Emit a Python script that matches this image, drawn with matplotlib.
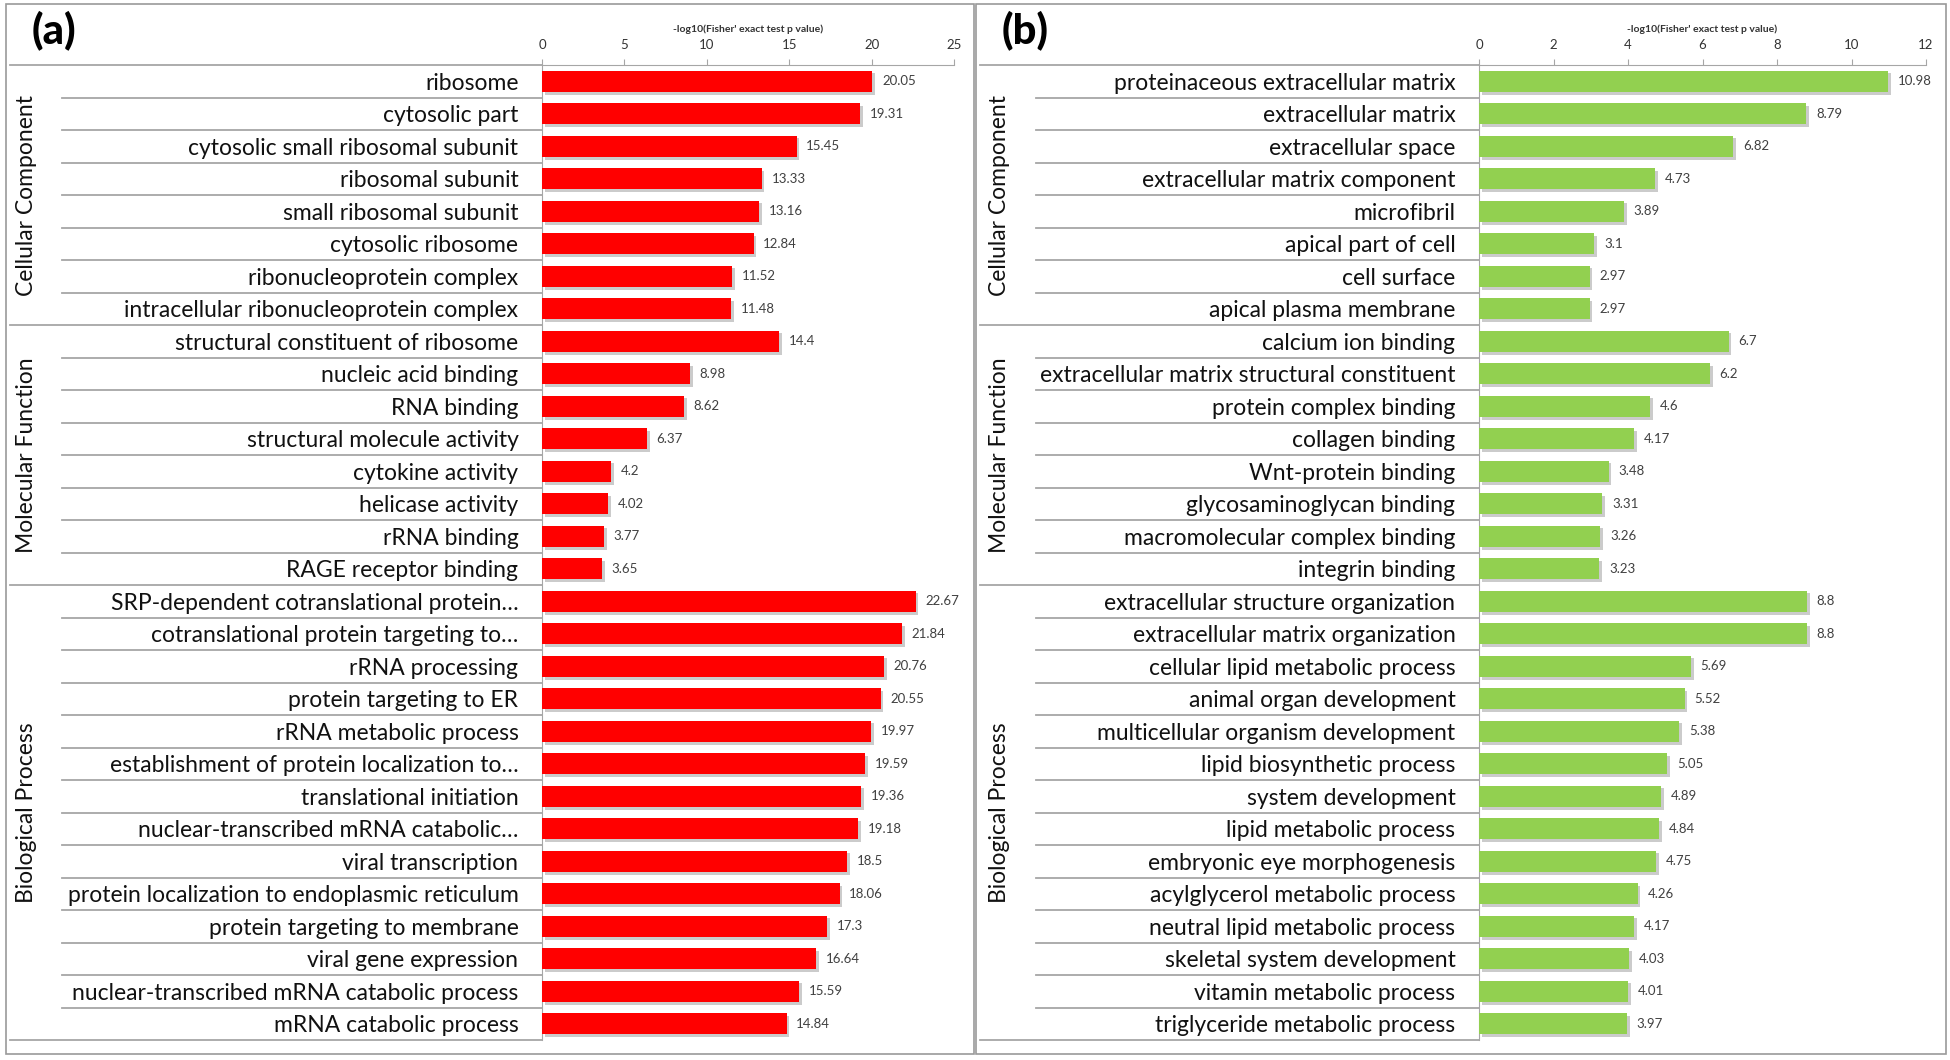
import matplotlib
matplotlib.use('Agg')
import matplotlib.pyplot as plt
import matplotlib.patheffects as pe
from matplotlib.patches import Rectangle
from matplotlib.lines import Line2D
import matplotlib.transforms as mtransforms

plt.rcParams['font.family'] = ['Lato', 'DejaVu Sans']

groups = ['Cellular Component', 'Molecular Function', 'Biological Process']
group_sizes = [8, 8, 14]

terms_a = [
    'ribosome', 'cytosolic part', 'cytosolic small ribosomal subunit', 'ribosomal subunit',
    'small ribosomal subunit', 'cytosolic ribosome', 'ribonucleoprotein complex',
    'intracellular ribonucleoprotein complex',
    'structural constituent of ribosome', 'nucleic acid binding', 'RNA binding',
    'structural molecule activity', 'cytokine activity', 'helicase activity', 'rRNA binding',
    'RAGE receptor binding',
    'SRP-dependent cotranslational protein…', 'cotranslational protein targeting to…',
    'rRNA processing', 'protein targeting to ER', 'rRNA metabolic process',
    'establishment of protein localization to…', 'translational initiation',
    'nuclear-transcribed mRNA catabolic…', 'viral transcription',
    'protein localization to endoplasmic reticulum', 'protein targeting to membrane',
    'viral gene expression', 'nuclear-transcribed mRNA catabolic process',
    'mRNA catabolic process',
]
values_a = [20.05, 19.31, 15.45, 13.33, 13.16, 12.84, 11.52, 11.48,
            14.4, 8.98, 8.62, 6.37, 4.2, 4.02, 3.77, 3.65,
            22.67, 21.84, 20.76, 20.55, 19.97, 19.59, 19.36, 19.18, 18.5, 18.06,
            17.3, 16.64, 15.59, 14.84]

terms_b = [
    'proteinaceous extracellular matrix', 'extracellular matrix', 'extracellular space',
    'extracellular matrix component', 'microfibril', 'apical part of cell', 'cell surface',
    'apical plasma membrane',
    'calcium ion binding', 'extracellular matrix structural constituent',
    'protein complex binding', 'collagen binding', 'Wnt-protein binding',
    'glycosaminoglycan binding', 'macromolecular complex binding', 'integrin binding',
    'extracellular structure organization', 'extracellular matrix organization',
    'cellular lipid metabolic process', 'animal organ development',
    'multicellular organism development', 'lipid biosynthetic process', 'system development',
    'lipid metabolic process', 'embryonic eye morphogenesis', 'acylglycerol metabolic process',
    'neutral lipid metabolic process', 'skeletal system development',
    'vitamin metabolic process', 'triglyceride metabolic process',
]
values_b = [10.98, 8.79, 6.82, 4.73, 3.89, 3.1, 2.97, 2.97,
            6.7, 6.2, 4.6, 4.17, 3.48, 3.31, 3.26, 3.23,
            8.8, 8.8, 5.69, 5.52, 5.38, 5.05, 4.89, 4.84, 4.75, 4.26, 4.17, 4.03,
            4.01, 3.97]

W, H = 1950, 1060
fig = plt.figure(figsize=(W / 100, H / 100), dpi=100)

LINE = '#a6a6a6'


def fx(px):
    return px / W


def fy(py):
    return 1 - py / H


def panel(tag, terms, values, color, xmax, xstep, ax_x0, ax_x1, box_x0, box_x1,
          glabel_x, inner_x0):
    # outer frame of the panel
    fig.patches.append(Rectangle((fx(box_x0), fy(1054)), fx(box_x1 - box_x0), 1050 / H,
                                 transform=fig.transFigure, fill=False,
                                 edgecolor='#9a9a9a', lw=1.2))
    fig.text(fx(box_x0 + 26), fy(30), tag, fontsize=30, fontweight='black',
             va='center', ha='left')

    ax = fig.add_axes([fx(ax_x0), fy(1040), fx(ax_x1 - ax_x0), (1040 - 65) / H])
    y = list(range(len(terms)))
    bars = ax.barh(y, values, height=0.66, color=color, zorder=3)
    for b in bars:
        b.set_path_effects([pe.SimplePatchShadow(offset=(2, -2), shadow_rgbFace='#999999',
                                                 alpha=0.5), pe.Normal()])
    for yi, v in zip(y, values):
        ax.annotate(f'{v:g}', (v, yi), xytext=(7, 0), textcoords='offset points',
                    va='center', ha='left', fontsize=9.5, color='#404040')

    ax.set_xlim(0, xmax)
    ax.set_ylim(len(terms) - 0.5, -0.5)
    ax.set_xticks(range(0, xmax + 1, xstep))
    ax.xaxis.tick_top()
    ax.tick_params(axis='x', labelsize=9.5, length=4, direction='out', color=LINE,
                   labelcolor='#333333', pad=6)
    ax.set_yticks(y)
    ax.set_yticklabels(terms, fontsize=16.5, color='#111111')
    ax.tick_params(axis='y', length=0, pad=17)
    ax.set_title("-log10(Fisher' exact test p value)", fontsize=7.5, fontweight='bold',
                 color='#333333', pad=24)
    for s in ('right', 'bottom'):
        ax.spines[s].set_visible(False)
    ax.spines['left'].set_color(LINE)
    ax.spines['top'].set_color(LINE)
    ax.patch.set_alpha(0)

    # row separators in the label area
    tr = mtransforms.blended_transform_factory(fig.transFigure, ax.transData)
    bounds = [-0.5]
    for n in group_sizes:
        bounds.append(bounds[-1] + n)
    for i in range(len(terms) + 1):
        yy = i - 0.5
        x0 = box_x0 + 4 if yy in bounds else inner_x0
        ax.add_line(Line2D([fx(x0), fx(ax_x0)], [yy, yy], transform=tr, color=LINE,
                           lw=1.3, clip_on=False))
    for g, lo, hi in zip(groups, bounds[:-1], bounds[1:]):
        ax.text(fx(glabel_x), (lo + hi) / 2, g, transform=tr, rotation=90,
                ha='center', va='center', fontsize=16.5, color='#111111')
    return ax


panel('(a)', terms_a, values_a, '#ff0000', 25, 5, 542, 954, 6, 974, 27, 62)
panel('(b)', terms_b, values_b, '#92d050', 12, 2, 1479, 1926, 976, 1946, 1000, 1036)

fig.savefig('out.png', dpi=100)
